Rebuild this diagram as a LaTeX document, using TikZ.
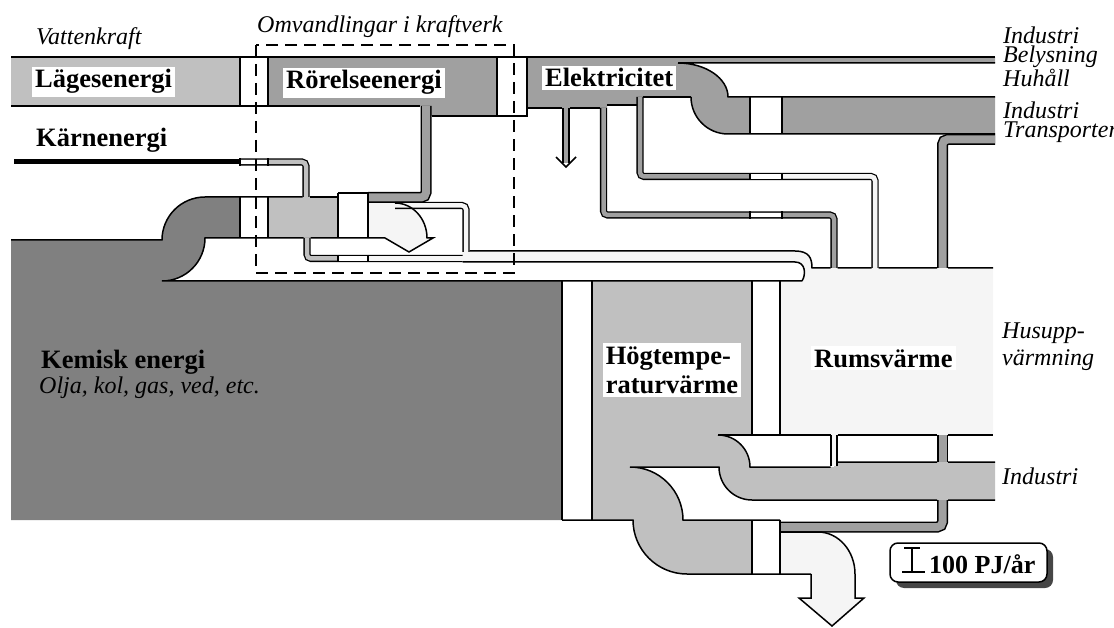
\documentclass[tikz,border=0pt]{standalone}
\usepackage{fontspec}
\setmainfont{Liberation Serif}
\definecolor{cK}{RGB}{128,128,128}
\definecolor{cA}{RGB}{160,160,160}
\definecolor{cC}{RGB}{192,192,192}
\definecolor{cF}{RGB}{245,245,245}
\definecolor{cS}{RGB}{70,70,70}
\newcommand\gapcol[4]{\fill[white] (#1,#3) rectangle (#2,#4); \draw[edge] (#1,#3) -- (#1,#4) (#2,#3) -- (#2,#4);}
\newcommand\pgap[3]{\fill[white] (#1,#3-2.25) rectangle (#2,#3+2.25); \draw[edge] (#1,#3-3.6) -- (#1,#3+3.6) (#2,#3-3.6) -- (#2,#3+3.6);}
\begin{document}
\begin{tikzpicture}[x=1pt,y=-1pt,
  edge/.style={line width=1.5pt},
  pipe/.style={line width=1.3pt, double=#1, double distance=4.5pt, rounded corners=4pt},
  wpipe/.style={line width=1.5pt, double=#1, double distance=8pt, rounded corners=5pt},
  lab/.style={font=\fontsize{26.5}{28}\selectfont\bfseries, inner xsep=3pt, inner ysep=3pt, anchor=base west},
  itl/.style={font=\fontsize{24}{19}\selectfont\itshape, inner sep=0pt, align=left},
]
\useasboundingbox (0,0) rectangle (1114,628);
% ---------- fills ----------
\fill[cC] (11,57) rectangle (240,106);
\fill[cA] (268,57) -- (497,57) -- (497,116) -- (426,116) -- (426,106) -- (268,106) -- cycle;
\fill[cA] (527,57) -- (995,57) -- (995,63) -- (678,63) arc[start angle=-90,end angle=0,x radius=50,y radius=34]
  -- (995,97) -- (995,134) -- (728,134) arc[start angle=90,end angle=180,radius=37]
  -- (643,97) -- (643,105) -- (607,105) -- (607,108) -- (527,108) -- cycle;
\fill[cK] (11,240) -- (162,240) arc[start angle=180,end angle=270,radius=43] -- (240,197) -- (240,238)
  -- (205,238) arc[start angle=0,end angle=90,radius=43] -- (562,281) -- (562,520) -- (11,520) -- cycle;
\fill[cC] (268,197) rectangle (338,238);
\fill[cF] (368,203) -- (395,203) arc[start angle=-90,end angle=0,x radius=32,y radius=35]
  -- (433,238) -- (409,252) -- (385,238) -- (368,238) -- cycle;
\fill[cC] (592,281) -- (752,281) -- (752,435) -- (718,435) arc[start angle=-90,end angle=0,radius=32]
  -- (834,467) -- (834,462) -- (995,462) -- (995,500) -- (752,500) arc[start angle=90,end angle=180,radius=33]
  -- (630,467) arc[start angle=-90,end angle=0,radius=53] -- (752,520) -- (752,574) -- (687,574)
  arc[start angle=90,end angle=180,radius=54] -- (592,520) -- cycle;
\fill[cF] (462,251) -- (795,251) .. controls (809,251) and (812,258) .. (812,268) -- (993,268) -- (993,435)
  -- (780,435) -- (780,281) -- (802,281) .. controls (806,275) and (806,262) .. (795,262) -- (462,262) -- cycle;
\fill[cF] (780,532) -- (818,532) arc[start angle=-90,end angle=0,x radius=37,y radius=42] -- (855,598)
  -- (864,598) -- (832,626) -- (799,598) -- (811,598) -- (811,574) -- (780,574) -- cycle;
% ---------- pipes ----------
\draw[line width=5pt] (14,162) -- (240,162);
\draw[pipe=cC] (240,162) -- (306,162) -- (306,197);
\pgap{240}{268}{162}
\draw[wpipe=cA] (426,106) -- (426,197.5) -- (368,197.5);
\draw[pipe=cF] (395,205.5) -- (466,205.5) -- (466,252);
\draw[pipe=cC] (307,238) -- (307,258.5) -- (462.5,258.5);
\draw[line width=4.5pt,cF] (368,258.5) -- (463,258.5);
\pgap{338}{368}{258.5}
\draw[pipe=cA] (566,108) -- (566,163);
\draw[edge] (556,157) -- (566,167) -- (576,157);
\draw[pipe=cA] (603.5,108) -- (603.5,215) -- (834,215) -- (834,268);
\pgap{750}{782}{215}
\draw[pipe=cA] (640,97) -- (640,176.5) -- (875,176.5) -- (875,268);
\draw[line width=4.5pt,cF,rounded corners=4pt] (782,176.5) -- (875,176.5) -- (875,268);
\pgap{750}{782}{176.5}
\draw[pipe=cF] (834,435) -- (834,466);
\draw[wpipe=cA] (995,139.5) -- (942.5,139.5) -- (942.5,268);
\draw[wpipe=cA] (942.5,435) -- (942.5,462);
\draw[wpipe=cA] (942.5,500) -- (942.5,527) -- (780,527);
% ---------- gaps ----------
\gapcol{240}{268}{57}{106}
\gapcol{240}{268}{197}{238}
\gapcol{497}{527}{57}{116}
\gapcol{338}{368}{193}{238}
\gapcol{750}{782}{97}{134}
\gapcol{562}{592}{281}{520}
\gapcol{752}{780}{281}{435}
\gapcol{752}{780}{520}{574}
% ---------- edges ----------
\draw[edge] (11,57) -- (995,57);
\draw[edge] (11,106) -- (420,106);
\draw[edge] (432,116) -- (527,116) -- (527,108) -- (562,108);
\draw[edge] (570,108) -- (600,108) (607,105) -- (637,105) (643,97) -- (691,97);
\draw[edge] (678,63) -- (995,63) (678,63) arc[start angle=-90,end angle=0,x radius=50,y radius=34] -- (995,97);
\draw[edge] (691,97) arc[start angle=180,end angle=90,radius=37] -- (995,134);
\draw[edge] (11,240) -- (162,240) arc[start angle=180,end angle=270,radius=43] -- (302.5,197);
\draw[edge] (309.5,197) -- (338,197) (338,193) -- (368,193);
\draw[edge] (303.5,238) -- (205,238) arc[start angle=0,end angle=90,radius=43] -- (802,281);
\draw[edge] (310.5,238) -- (385,238) -- (409,252) -- (433,238) -- (427,238)
  arc[start angle=0,end angle=-90,x radius=32,y radius=35];
\draw[edge] (469.5,251) -- (795,251) .. controls (809,251) and (812,258) .. (812,268) -- (830.5,268)
  (837.5,268) -- (871.5,268) (878.5,268) -- (937,268) (948,268) -- (993,268);
\draw[edge] (462.5,262) -- (795,262) .. controls (806,262) and (806,275) .. (802,281);
\draw[edge] (718,435) -- (830.5,435) (837.5,435) -- (937,435) (948,435) -- (993,435);
\draw[edge] (718,435) arc[start angle=-90,end angle=0,radius=32] -- (830.5,467) (837.5,462) -- (937,462) (948,462) -- (995,462);
\draw[edge] (995,500) -- (948,500) (937,500) -- (752,500) arc[start angle=90,end angle=180,radius=33]
  -- (630,467) arc[start angle=-90,end angle=0,radius=53] -- (780,520);
\draw[edge] (562,520) -- (633,520) arc[start angle=180,end angle=90,radius=54] -- (811,574);
\draw[edge] (780,532) -- (818,532) arc[start angle=-90,end angle=0,x radius=37,y radius=42] -- (855,598)
  -- (864,598) -- (832,626) -- (799,598) -- (811,598) -- (811,574);
% dashed frame
\draw[line width=1.8pt, dash pattern=on 12pt off 7pt] (256,45) rectangle (514,273);
% ---------- labels ----------
\node[lab, fill=white] (lage) at (32,88) {Lägesenergi};
\node[lab] (karn) at (33,147) {Kärnenergi};
\node[lab, fill=white] (rore) at (283,89) {Rörelseenergi};
\node[lab, fill=white] (elek) at (542,87) {Elektricitet};
\node[lab] (kem) at (38,368) {Kemisk energi};
\node[itl, anchor=base west] (olja) at (39,393) {Olja, kol, gas, ved, etc.};
\node[lab, fill=white, align=left, anchor=center, font=\fontsize{26.5}{29}\selectfont\bfseries] (hog) at (672,370) {Högtempe-\\raturvärme};
\node[lab, fill=white] (rums) at (811,367) {Rumsvärme};
\node[itl, anchor=base west] (vatt) at (36,45) {Vattenkraft};
\node[itl, anchor=base west] (omv) at (257,33) {Omvandlingar i kraftverk};
\node[itl, anchor=north west] (ind1) at (1003,27) {Industri\\Belysning\\Huhåll};
\node[itl, anchor=north west] (ind2) at (1003,102) {Industri\\Transporter};
\node[itl, anchor=north west, font=\fontsize{24}{27}\selectfont\itshape] (hus) at (1002,323) {Husupp-\\värmning};
\node[itl, anchor=base west] (ind3) at (1002,484) {Industri};
% legend
\fill[cS, rounded corners=8pt] (896,549) rectangle (1053,588);
\draw[edge, fill=white, rounded corners=8pt] (890,543) rectangle (1047,582);
\draw[edge] (904,548) -- (920,548) (912,548) -- (912,572) (902,572) -- (925,572);
\node[font=\fontsize{26}{28}\selectfont\bfseries, inner sep=0pt, anchor=base west] (leg) at (929,573) {100 PJ/år};
\end{tikzpicture}
\end{document}
